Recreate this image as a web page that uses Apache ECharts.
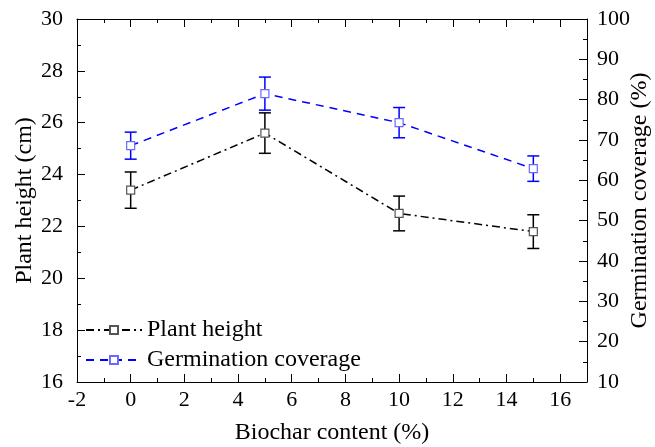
<!DOCTYPE html>
<html>
<head>
<meta charset="utf-8">
<script src="https://cdn.jsdelivr.net/npm/echarts@6/dist/echarts.min.js"></script>
<style>html,body{margin:0;padding:0;background:#fff}#c{width:655px;height:447px}</style>
</head>
<body>
<div id="c"></div>
<script>
var biochar = [0, 5, 10, 15];
var plantHeight = [23.4, 25.6, 22.5, 21.8];
var plantErr = [0.7, 0.78, 0.67, 0.65];
var germination = [68.6, 81.5, 74.3, 62.9];
var germErr = [3.35, 4.1, 3.75, 3.15];

var FONT = 'Liberation Serif';
var TICK_FS = 22;
var TITLE_FS = 24;
var chart = echarts.init(document.getElementById('c'));

function pairs(xs, ys) { return xs.map(function (x, i) { return [x, ys[i]]; }); }
function errData(xs, ys, es) { return xs.map(function (x, i) { return [x, ys[i] - es[i], ys[i] + es[i]]; }); }
function errRender(color) {
  return function (params, api) {
    var x = api.value(0);
    var lo = api.coord([x, api.value(1)]);
    var hi = api.coord([x, api.value(2)]);
    var w = 6;
    var st = { stroke: color, lineWidth: 1.5 };
    return {
      type: 'group',
      children: [
        { type: 'line', shape: { x1: lo[0], y1: lo[1], x2: hi[0], y2: hi[1] }, style: st },
        { type: 'line', shape: { x1: lo[0] - w, y1: lo[1], x2: lo[0] + w, y2: lo[1] }, style: st },
        { type: 'line', shape: { x1: hi[0] - w, y1: hi[1], x2: hi[0] + w, y2: hi[1] }, style: st }
      ]
    };
  };
}

function axisBase() {
  return {
    axisLine: { show: true, onZero: false, lineStyle: { color: '#000', width: 1 } },
    axisTick: { show: true, inside: true, length: 8, lineStyle: { color: '#000' } },
    minorTick: { show: true, splitNumber: 2, length: 4, lineStyle: { color: '#000' } },
    splitLine: { show: false },
    minorSplitLine: { show: false },
    nameMoveOverlap: false
  };
}
var titleStyle = { fontFamily: FONT, fontSize: TITLE_FS, color: '#000' };

var option = {
  animation: false,
  backgroundColor: '#fff',
  grid: { left: 77, right: 68, top: 19, bottom: 65, containLabel: false, outerBoundsMode: 'none' },
  legend: {
    left: 80, top: 313, orient: 'vertical', itemGap: 6,
    itemWidth: 56, itemHeight: 10,
    textStyle: { fontFamily: FONT, fontSize: TITLE_FS, color: '#000' },
    data: ['Plant height', 'Germination coverage']
  },
  xAxis: [
    Object.assign(axisBase(), {
      type: 'value', min: -2, max: 17, interval: 2, position: 'bottom',
      name: 'Biochar content (%)', nameLocation: 'middle', nameGap: 39,
      nameTextStyle: titleStyle,
      axisLabel: { color: '#000', fontFamily: FONT, fontSize: TICK_FS, margin: 7, showMaxLabel: false,
        formatter: function (v) { return v === 17 ? '' : String(v); } }
    }),
    Object.assign(axisBase(), {
      type: 'value', min: -2, max: 17, interval: 2, position: 'top',
      axisLabel: { show: false }
    })
  ],
  yAxis: [
    Object.assign(axisBase(), {
      type: 'value', min: 16, max: 30, interval: 2, position: 'left',
      name: 'Plant height (cm)', nameLocation: 'middle', nameGap: 40, nameRotate: 90,
      nameTextStyle: titleStyle,
      axisLabel: { color: '#000', fontFamily: FONT, fontSize: TICK_FS, margin: 14 }
    }),
    Object.assign(axisBase(), {
      type: 'value', min: 10, max: 100, interval: 10, position: 'right',
      name: 'Germination coverage (%)', nameLocation: 'middle', nameGap: 41, nameRotate: 90,
      nameTextStyle: titleStyle,
      axisLabel: { color: '#000', fontFamily: FONT, fontSize: TICK_FS, margin: 10 }
    })
  ],
  series: [
    {
      type: 'custom', name: 'phErr', xAxisIndex: 0, yAxisIndex: 0, z: 1,
      renderItem: errRender('#000'), data: errData(biochar, plantHeight, plantErr),
      encode: { x: 0, y: [1, 2] }, silent: true
    },
    {
      type: 'custom', name: 'gcErr', xAxisIndex: 0, yAxisIndex: 1, z: 1,
      renderItem: errRender('#0000ff'), data: errData(biochar, germination, germErr),
      encode: { x: 0, y: [1, 2] }, silent: true
    },
    {
      type: 'line', name: 'Plant height', xAxisIndex: 0, yAxisIndex: 0, z: 3,
      data: pairs(biochar, plantHeight),
      symbol: 'rect', symbolSize: 8, showAllSymbol: true,
      lineStyle: { color: '#000', width: 1.5, type: [8, 4, 2, 4] },
      itemStyle: { color: '#fff', borderColor: '#555', borderWidth: 1.2 }
    },
    {
      type: 'line', name: 'Germination coverage', xAxisIndex: 0, yAxisIndex: 1, z: 3,
      data: pairs(biochar, germination),
      symbol: 'rect', symbolSize: 8, showAllSymbol: true,
      lineStyle: { color: '#0000ff', width: 1.5, type: [8, 6] },
      itemStyle: { color: '#fff', borderColor: '#6a6aff', borderWidth: 1.2 }
    }
  ]
};
chart.setOption(option);
</script>
</body>
</html>
